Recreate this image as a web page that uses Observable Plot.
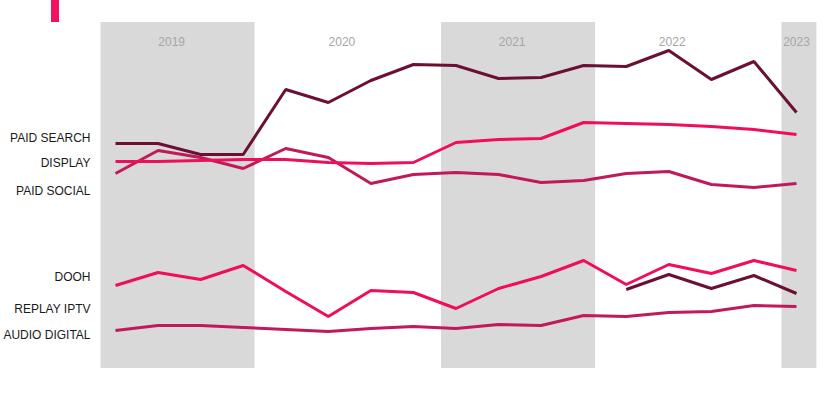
<!DOCTYPE html>
<html><head><meta charset="utf-8">
<script src="https://cdn.jsdelivr.net/npm/d3@7"></script>
<script src="https://cdn.jsdelivr.net/npm/@observablehq/plot@0.6"></script>
<style>
html,body{margin:0;padding:0;background:#fff;}
#wrap{position:relative;width:828px;height:394px;overflow:hidden;}
#chart{position:absolute;left:0;top:0;}
#accent{position:absolute;left:51px;top:0;width:8px;height:22px;background:#f0115f;z-index:2;}
</style></head>
<body>
<div id="wrap"><div id="chart"></div><div id="accent"></div></div>
<script>
// Quarterly periods
const periods = ["2019-Q1","2019-Q2","2019-Q3","2019-Q4","2020-Q1","2020-Q2","2020-Q3","2020-Q4",
  "2021-Q1","2021-Q2","2021-Q3","2021-Q4","2022-Q1","2022-Q2","2022-Q3","2022-Q4","2023-Q1"];
const years = [2019, 2020, 2021, 2022, 2023];
const shadedYears = [2019, 2021, 2023];

// Series (index, no axis in the original)
const series = ["PAID SEARCH", "DISPLAY", "PAID SOCIAL", "DOOH", "REPLAY IPTV", "AUDIO DIGITAL"];
const paidSearch = [251,251,240,240,305,292,314,330,329,316,317,329,328,344,315,333,282];
const display    = [233,233,234,235,235,232,231,232,252,255,256,272,271,270,268,265,260];
const paidSocial = [221,244,237,226,246,237,211,220,222,220,212,214,221,223,210,207,211];
const dooh       = [109,122,115,129,103,78,104,102,86,106,118,134,110,130,121,134,124];
const replayIptv = [null,null,null,null,null,null,null,null,null,null,null,null,105,120,106,119,101];
const audioDigital = [64,69,69,67,65,63,66,68,66,70,69,79,78,82,83,89,88];
const labelValues = [256,231,203,117,85,59];

const colors = {
  "PAID SEARCH": "#6b0f35",
  "DISPLAY": "#ef0e5b",
  "PAID SOCIAL": "#c01a5a",
  "DOOH": "#ef0e5b",
  "REPLAY IPTV": "#6b0f35",
  "AUDIO DIGITAL": "#c01a5a"
};
const valuesBySeries = {
  "PAID SEARCH": paidSearch, "DISPLAY": display, "PAID SOCIAL": paidSocial,
  "DOOH": dooh, "REPLAY IPTV": replayIptv, "AUDIO DIGITAL": audioDigital
};

const toT = p => { const [y, q] = p.split("-Q"); return +y + (+q - 1) / 4; };
const drawOrder = ["AUDIO DIGITAL", "REPLAY IPTV", "DOOH", "PAID SOCIAL", "DISPLAY", "PAID SEARCH"];
const rows = [];
for (const s of drawOrder) {
  valuesBySeries[s].forEach((v, i) => rows.push({series: s, t: toT(periods[i]), value: v}));
}
const bands = shadedYears.map(y => ({x1: y - 0.085, x2: Math.min(y + 0.82, 2023.12)}));
const yearLabels = years.map(y => ({year: y, t: y === 2023 ? 2023 : (y === 2022 ? y + 0.27 : y + 0.33)}));
const labels = series.map((s, i) => ({series: s, value: labelValues[i]}));

const chart = Plot.plot({
  width: 828, height: 394,
  margin: 0,
  x: {domain: [2019, 2023], range: [115, 796], axis: null},
  y: {domain: [0, 394], range: [394, 0], axis: null},
  style: {fontFamily: "'Liberation Sans', Arial, sans-serif", background: "white"},
  marks: [
    Plot.rect(bands, {x1: "x1", x2: "x2", insetTop: 22, insetBottom: 26, fill: "#d9d9d9"}),
    Plot.text(yearLabels, {x: "t", frameAnchor: "top", dy: 42, lineAnchor: "middle", text: d => String(d.year), fill: "#a6a6a6", fontSize: 12}),
    ...drawOrder.map(s => Plot.line(rows.filter(r => r.series === s), {
      x: "t", y: "value", stroke: colors[s], strokeWidth: 3,
      strokeLinejoin: "miter", strokeLinecap: "butt"
    })),
    Plot.text(labels, {x: 2019, y: "value", dx: -25, text: "series", textAnchor: "end", fill: "#1a1a1a", fontSize: 12})
  ]
});
document.getElementById("chart").appendChild(chart);
</script>
</body></html>
